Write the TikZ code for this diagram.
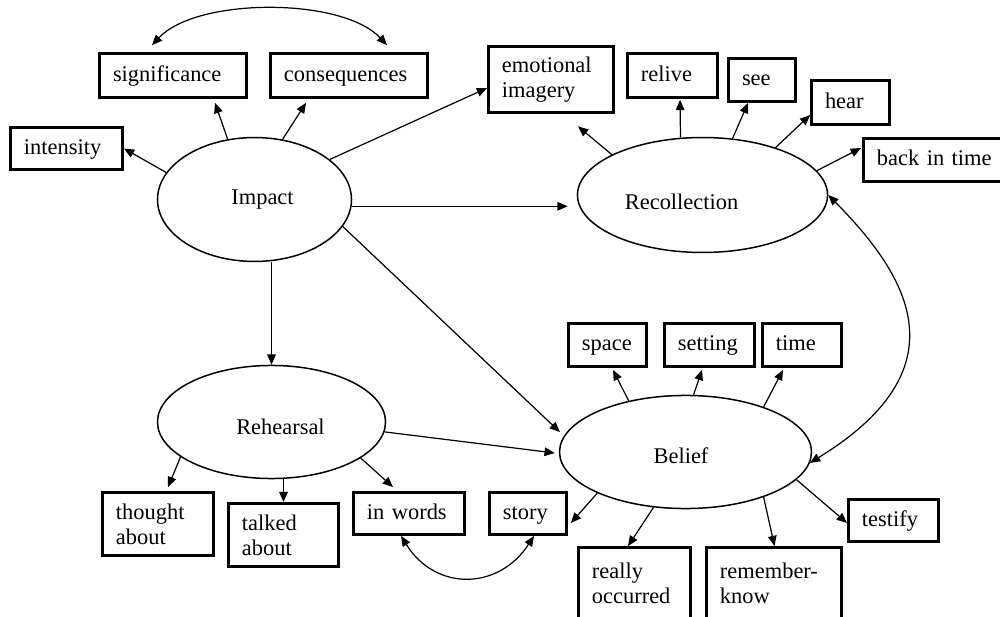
\documentclass[tikz,border=0pt]{standalone}
\usepackage{fontspec}
\setmainfont{Liberation Serif}
\usetikzlibrary{shapes.geometric,arrows.meta,calc}

\tikzset{
  oval/.style={draw, ellipse, line width=0.8pt, inner sep=0pt},
  tag/.style={draw, rectangle, line width=1.5pt, inner xsep=7.2pt, inner ysep=0pt,
    align=left, font=\fontsize{12pt}{13.5pt}\selectfont},
  one/.style={text height=8.6pt, text depth=2.6pt},
  sz/.style n args={3}{minimum width=#1, text width=#2, minimum height=#3},
  tip/.tip={Triangle[length=5.5pt,width=4.6pt]},
  arr/.style={line width=0.65pt, -tip},
  arr2/.style={line width=0.65pt, tip-tip},
  lab/.style={font=\fontsize{12pt}{13.5pt}\selectfont, inner sep=0pt},
}

\begin{document}
\begin{tikzpicture}[x=0.535pt, y=-0.535pt]
\useasboundingbox (0,0) rectangle (1000,617);

% latent constructs
\node[oval, minimum width=103.8pt, minimum height=66.3pt,
      label={[lab, xshift=4.3pt]center:Impact}] (imp) at (254.5,199.5) {};
\node[oval, minimum width=133.8pt, minimum height=61.5pt,
      label={[lab, xshift=-11.2pt, yshift=-3.5pt]center:Recollection}] (rec) at (702.5,195) {};
\node[oval, minimum width=122pt, minimum height=60.5pt,
      label={[lab, xshift=4.8pt, yshift=-2.4pt]center:Rehearsal}] (reh) at (271.5,422) {};
\node[oval, minimum width=134.8pt, minimum height=60.5pt,
      label={[lab, xshift=-2.4pt, yshift=-2.2pt]center:Belief}] (bel) at (685.5,452) {};

% indicators of Impact
\node[tag, one, sz={78.6pt}{64.2pt}{23.5pt}] (significance) at (173,75.5) {significance};
\node[tag, one, sz={84.0pt}{69.6pt}{23.5pt}] (consequences) at (349,75.5) {consequences};
\node[tag, one, sz={59.9pt}{45.5pt}{22.5pt}] (intensity) at (66.5,148.5) {intensity};
\node[tag, sz={66.9pt}{52.5pt}{35.3pt}] (emo) at (551,79.5) {emotional\\imagery};

% indicators of Recollection
\node[tag, one, sz={48.2pt}{33.8pt}{23.5pt}] (relive) at (672.5,75.5) {relive};
\node[tag, one, sz={35.8pt}{21.4pt}{23.0pt}] (see) at (762,80) {see};
\node[tag, one, sz={41.7pt}{27.3pt}{23.5pt}] (hear) at (850.5,102.5) {hear};
\node[tag, one, sz={77.6pt}{63.2pt}{23.0pt}] (back) at (936,160) {back in time};

% indicators of Belief
\node[tag, one, sz={41.7pt}{27.3pt}{23.0pt}] (space) at (607.5,345) {space};
\node[tag, one, sz={48.2pt}{33.8pt}{23.0pt}] (setting) at (709.5,345) {setting};
\node[tag, one, sz={42.3pt}{27.9pt}{23.0pt}] (time) at (802,345) {time};
\node[tag, one, sz={41.2pt}{26.8pt}{22.5pt}] (story) at (528,513.5) {story};
\node[tag, one, sz={48.2pt}{33.8pt}{22.5pt}] (testify) at (893.5,520.5) {testify};
\node[tag, sz={59.9pt}{45.5pt}{38.5pt}] (really) at (634.5,583.5) {really\\occurred};
\node[tag, sz={72.2pt}{57.8pt}{38.5pt}] (remember) at (774,583.5) {remember-\\know};

% indicators of Rehearsal
\node[tag, sz={59.4pt}{45.0pt}{33.7pt}] (thought) at (158,524) {thought\\about};
\node[tag, sz={58.9pt}{44.5pt}{33.7pt}] (talked) at (283.5,535) {talked\\about};
\node[tag, one, sz={59.4pt}{45.0pt}{22.5pt}] (inwords) at (409,513.5) {in words};

% Impact
\draw[arr] (imp.163) -- (intensity.east);
\draw[arr] (imp.114) -- ($(significance.south)+(42,4)$);
\draw[arr] (imp.65) -- ($(consequences.south)+(-43,4)$);
\draw[arr] (imp.28) -- ($(emo.west)+(0,8.5)$);
\draw[arr] (imp.-4) -- ($(rec.west |- imp.-4)+(-9,0)$);
\draw[arr] (imp.south -| reh.north) -- (reh.north);
\draw[arr] (imp.-17) -- ($(bel.171)+(-6,-1)$);
\draw[arr2] ($(significance.north)+(-21,-7)$) .. controls +(45,-48) and +(-45,-48) .. ($(consequences.north)+(38,-7)$);

% Recollection
\draw[arr] (rec.156) -- ($(emo.south)+(27,12.5)$);
\draw[arr] (rec.111.5) -- ($(relive.south)+(7.5,1)$);
\draw[arr] (rec.62.6) -- ($(see.south)+(-14,0)$);
\draw[arr] (rec.33.5) -- ($(hear.west)+(0,12.5)$);
\draw[arr] (rec.12.7) -- ($(back.west)+(-1,-12)$);
\draw[arr2] (rec.east) .. controls +(82,83) and +(153,-94) .. (bel.-5);

% Rehearsal
\draw[arr] (reh.-5.5) -- ($(bel.west)+(-4,1)$);
\draw[arr] (reh.201) -- ($(thought.north)+(10,-4)$);
\draw[arr] (reh.south -| talked.north) -- (talked.north);
\draw[arr] (reh.-22) -- ($(inwords.north)+(-16,-4)$);
\draw[arr2] ($(inwords.south)+(-8,0)$) .. controls +(35,56) and +(-35,54) .. ($(story.south)+(6,0)$);

% Belief
\draw[arr] (bel.138) -- ($(space.south)+(5.5,2)$);
\draw[arr] (bel.82.4) -- ($(setting.south)+(-7.5,2)$);
\draw[arr] (bel.30.7) -- ($(time.south)+(-19,2)$);
\draw[arr] (bel.205.4) -- ($(story.east)+(3,9.5)$);
\draw[arr] (bel.240.3) -- ($(really.north)+(-6.5,0)$);
\draw[arr] (bel.-30.1) -- ($(remember.north)+(0.5,0)$);
\draw[arr] (bel.-14.5) -- ($(testify.west)+(0,2.5)$);
\end{tikzpicture}
\end{document}
